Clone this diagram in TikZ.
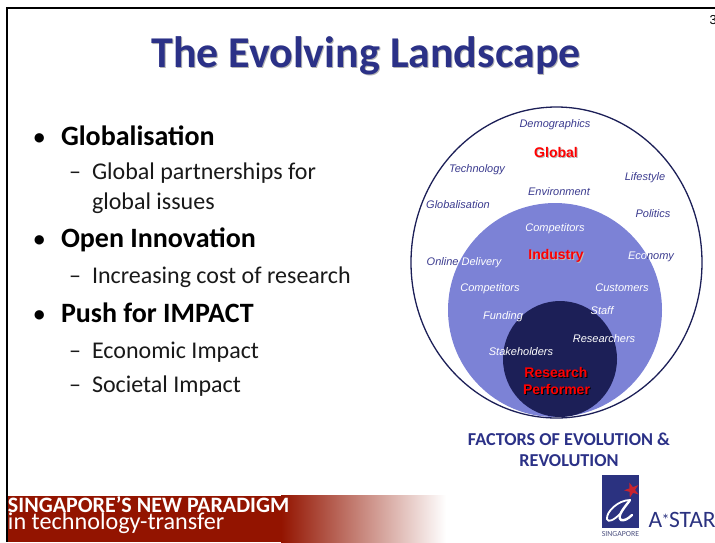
\documentclass[tikz,border=0pt]{standalone}
\usepackage{fontspec}
\setmainfont{Carlito}
\newfontfamily\lab{Liberation Sans}
\definecolor{titleblue}{HTML}{2B3187}
\definecolor{labdark}{HTML}{3A3A8E}
\definecolor{midfill}{HTML}{7C82D6}
\definecolor{innerfill}{HTML}{1C1F57}
\definecolor{bandred}{HTML}{931400}
\definecolor{logoblue}{HTML}{2B3280}
\definecolor{starred}{HTML}{C8242E}
\definecolor{shade}{HTML}{8A8A8A}
\tikzset{
  txt/.style={inner sep=0pt,outer sep=0pt,anchor=base west},
  ctr/.style={inner sep=0pt,outer sep=0pt,anchor=base},
  outerlab/.style={ctr,font=\lab\itshape\fontsize{11}{11}\selectfont,text=labdark},
  innerlab/.style={ctr,font=\lab\itshape\fontsize{11}{11}\selectfont,text=white},
  redlab/.style={ctr,font=\lab\bfseries\fontsize{14}{14}\selectfont,text=red},
  redshade/.style={ctr,font=\lab\bfseries\fontsize{14}{14}\selectfont,text=shade!60},
  head/.style={txt,font=\bfseries\fontsize{28}{28}\selectfont,text=black},
  bull/.style={txt,font=\bfseries\fontsize{22}{22}\selectfont,text=black},
  sub/.style={txt,font=\fontsize{24}{24}\selectfont,text=black!90},
  factor/.style={ctr,font=\bfseries\fontsize{18.2}{18.2}\selectfont,text=titleblue},
  band/.style={txt,text=white},
}
\begin{document}
\begin{tikzpicture}[x=1pt,y=-1pt]
\useasboundingbox (0,0) rectangle (715,542);
\begin{scope}
\clip (0,0) rectangle (715,542);
% frame
\fill[black] (6,7) rectangle (715,9);
\fill[black] (6,7) rectangle (8,542);
% page number
\node[txt,font=\lab\fontsize{13}{13}\selectfont] (pageno) at (709.5,24.5) {3};
% title
\node[ctr,font=\bfseries\fontsize{44}{44}\selectfont,text=shade!65] (titleshadow) at (367,68.5) {The Evolving Landscape};
\node[ctr,font=\bfseries\fontsize{44}{44}\selectfont,text=titleblue] (title) at (366,67) {The Evolving Landscape};
% left text
\node[bull] (b1) at (34,144) {•};
\node[head] (h1) at (61,145) {Globalisation};
\node[sub] (d1) at (69,179) {–};
\node[sub] (s1) at (92,179) {Global partnerships for};
\node[sub] (s1b) at (92,209) {global issues};
\node[bull] (b2) at (34,246) {•};
\node[head] (h2) at (61,247) {Open Innovation};
\node[sub] (d2) at (69,283) {–};
\node[sub] (s2) at (92,283) {Increasing cost of research};
\node[bull] (b3) at (34,321) {•};
\node[head] (h3) at (61,322) {Push for IMPACT};
\node[sub] (d3) at (69,358) {–};
\node[sub] (s3) at (92,358) {Economic Impact};
\node[sub] (d4) at (69,392) {–};
\node[sub] (s4) at (92,392) {Societal Impact};
% circles
\draw[innerfill,line width=1.3pt] (556.5,262.5) ellipse [x radius=145.5,y radius=155.5];
\fill[midfill] (555,310) ellipse [x radius=107,y radius=107];
\fill[innerfill] (560,359) ellipse [x radius=57,y radius=58];
% outer labels
\node[outerlab] (demo) at (555,127) {Demographics};
\node[outerlab] (tech) at (477,172) {Technology};
\node[outerlab] (life) at (645,180) {Lifestyle};
\node[outerlab] (envi) at (559,195) {Environment};
\node[outerlab] (glob) at (458,208) {Globalisation};
\node[outerlab] (poli) at (653,217) {Politics};
\node[outerlab] (onli) at (464,265) {Online {\color{white}Delivery}};
\node[outerlab] (econ) at (651,259) {{\color{white}Eco}nomy};
% inner labels
\node[innerlab] (comp) at (555,231) {Competitors};
\node[innerlab] (comp2) at (490,291) {Competitors};
\node[innerlab] (cust) at (622,291) {Customers};
\node[innerlab] (fund) at (503,319) {Funding};
\node[innerlab] (staf) at (602,314) {Staff};
\node[innerlab] (rese) at (604,342) {Researchers};
\node[innerlab] (stak) at (521,355) {Stakeholders};
% red labels
\node[redshade] (globals) at (557,158.5) {Global};
\node[redlab] (global) at (556,157.5) {Global};
\node[redshade] (indus) at (557,260.5) {Industry};
\node[redlab] (indu) at (556,259.5) {Industry};
\node[redshade,text=black] (ress) at (557,378) {Research};
\node[redlab] (res) at (556,377) {Research};
\node[redshade,text=black] (pers) at (557.5,395) {Performer};
\node[redlab] (per) at (556.5,394) {Performer};
% caption
\node[factor] (f1) at (569,445) {FACTORS OF EVOLUTION \&};
\node[factor] (f2) at (569,466) {REVOLUTION};
% band
\fill[bandred] (8,496) rectangle (281.5,542);
\shade[left color=bandred,right color=white] (281,495.5) rectangle (446,542);
\node[band,font=\bfseries\fontsize{22}{22}\selectfont] (bt1) at (8,512) {SINGAPORE’S NEW PARADIGM};
\node[band,font=\fontsize{24.2}{24.2}\selectfont] (bt2) at (8,529) {in technology-transfer};
% logo
\fill[logoblue] (602,475) rectangle (639,528);
\fill[starred,shift={(632,490)},rotate=20] (-90:8) -- (-54:3) -- (-18:8) -- (18:3) -- (54:8) -- (90:3) -- (126:8) -- (162:3) -- (198:8) -- (234:3) -- cycle;
\draw[white,line width=1.8pt,line cap=round] (630,500) .. controls (618,500) and (606,512) .. (607,519) .. controls (608,523) and (614,520) .. (620,514);
\draw[white,line width=2.4pt,line cap=round] (630,500) .. controls (626,506) and (616,516) .. (621,520) .. controls (624,521) and (628,519) .. (632,515);
\node[ctr,font=\fontsize{7.8}{7.8}\selectfont,text=logoblue!60!gray] (singa) at (620.5,536) {SINGAPORE};
\node[txt,text=logoblue,font=\fontsize{23.5}{23.5}\selectfont] (astar) at (648.5,527.5) {A\kern-0.5pt{\fontsize{16}{16}\selectfont\raisebox{2pt}{*}}\kern-0.5pt STAR};
\end{scope}
\end{tikzpicture}
\end{document}
